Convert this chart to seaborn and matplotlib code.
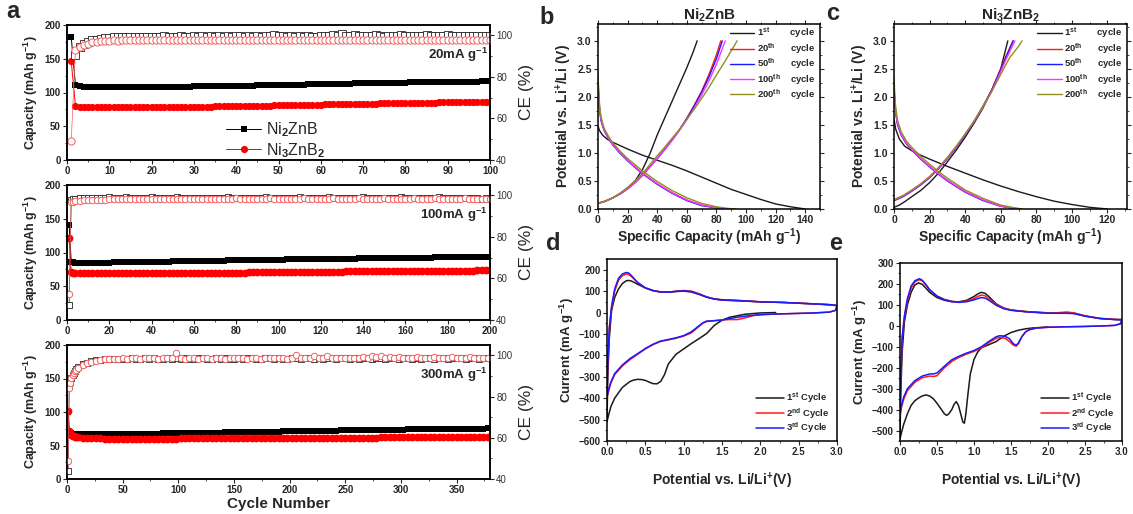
import numpy as np
import matplotlib
matplotlib.use("Agg")
import matplotlib.pyplot as plt
import seaborn as sns
from matplotlib.ticker import MultipleLocator, FormatStrFormatter

sns.set_style("ticks")
plt.rcParams['font.family'] = ['Liberation Sans', 'DejaVu Sans']
plt.rcParams['font.weight'] = 'bold'
plt.rcParams['mathtext.fontset'] = 'custom'
plt.rcParams['mathtext.rm'] = 'Liberation Sans'
plt.rcParams['mathtext.bf'] = 'Liberation Sans:bold'
plt.rcParams['mathtext.it'] = 'Liberation Sans:italic'
plt.rcParams['axes.linewidth'] = 1.1
plt.rcParams['axes.edgecolor'] = 'black'

# ---------------- data: panel a ----------------
top_cycles = list(range(1, 101))
top_ni2_cap = [182, 111, 109, 108.5, 108, 108, 107.5, 107.5, 107.5, 107.5,
               107.5, 107.5, 107.5, 107.5, 107.5, 107.5, 107.5, 108, 108, 108,
               108, 108, 108, 108, 108.5, 108.5, 108.5, 108.5, 108.5, 109,
               109, 109, 109, 109, 109, 109.5, 109.5, 109.5, 109.5, 110,
               110, 110, 110, 110, 110.5, 110.5, 110.5, 110.5, 111, 111,
               111, 111, 111, 111.5, 111.5, 111.5, 112, 112, 112, 112,
               112.5, 112.5, 112.5, 113, 113, 113, 113, 113.5, 113.5, 113.5,
               113.5, 114, 114, 114, 114, 114, 114.5, 114.5, 114.5, 114.5,
               115, 115, 115, 115, 115, 115, 115.5, 115.5, 115.5, 115.5,
               115.5, 116, 116, 116, 116, 116, 116, 116.5, 116.5, 116.5]
top_ni3_cap = [146, 80, 78.5, 78, 78, 78, 78, 78, 78, 78,
               78, 78, 78, 78, 78, 78, 78, 78, 78.5, 78.5,
               78.5, 78.5, 78.5, 78.5, 78.5, 79, 79, 79, 79, 79,
               79, 79, 79, 79, 79.5, 79.5, 79.5, 79.5, 79.5, 80,
               80, 80, 80, 80, 80.5, 80.5, 80.5, 80.5, 81, 81,
               81, 81, 81, 81.5, 81.5, 81.5, 82, 82, 82, 82,
               82.5, 82.5, 82.5, 83, 83, 83, 83.5, 83.5, 83.5, 83.5,
               83.5, 83.5, 83.5, 84, 84, 84, 84, 84, 84.5, 84.5,
               84.5, 84.5, 85, 85, 85, 85, 85, 85.5, 85.5, 85.5,
               85.5, 86, 86, 86, 86, 86, 86.5, 86.5, 86.5, 86.5]
top_ni2_ce = [np.nan, 90.4, 94.6, 96.0, 97.0, 97.6, 98.0, 98.3, 98.6, 98.9,
              99.1, 99.1, 99.3, 99.1, 99.4, 99.1, 99.3, 99.4, 99.1, 99.3,
              99.4, 99.1, 99.6, 99.3, 99.4, 99.1, 99.6, 99.4, 99.3, 99.7,
              99.4, 99.6, 99.3, 99.5, 99.4, 99.6, 99.3, 99.6, 99.4, 99.5,
              99.6, 99.3, 99.5, 99.4, 99.6, 99.4, 99.5, 99.9, 100.1, 99.6,
              99.5, 99.4, 99.6, 99.3, 99.5, 99.4, 99.6, 99.4, 99.3, 99.5,
              99.6, 99.8, 100.3, 99.6, 100.6, 99.7, 99.9, 100.4, 99.7, 99.6,
              99.5, 99.7, 100.1, 99.6, 99.4, 99.6, 99.7, 99.5, 100.1, 99.6,
              99.6, 99.8, 99.5, 99.7, 100.1, 99.6, 99.9, 99.5, 99.7, 100.1,
              99.6, 99.9, 99.5, 99.7, 99.6, 99.9, 99.6, 99.7, 99.8, 99.6]
top_ni3_ce = [49.1, 93.0, 94.3, 95.3, 96.0, 96.6, 96.9, 97.1, 97.2, 97.5,
              97.6, 97.5, 97.7, 97.6, 97.7, 97.6, 97.8, 97.7, 97.6, 97.8,
              97.7, 97.8, 97.6, 97.9, 97.7, 97.8, 97.6, 97.9, 97.7, 97.8,
              97.9, 97.7, 97.8, 98.0, 97.7, 97.9, 97.8, 97.7, 97.9, 97.8,
              98.0, 97.8, 97.9, 97.7, 97.9, 98.0, 97.8, 97.9, 97.7, 97.9,
              97.8, 98.0, 97.8, 97.9, 97.7, 97.9, 97.8, 98.0, 97.8, 97.9,
              97.7, 97.9, 98.0, 97.8, 97.9, 97.8, 98.0, 97.7, 97.9, 97.8,
              98.0, 97.8, 97.9, 97.7, 97.9, 98.0, 97.8, 97.9, 97.8, 98.0,
              97.8, 97.9, 97.7, 97.9, 98.0, 97.8, 97.9, 97.8, 98.0, 97.8,
              97.9, 97.7, 97.9, 98.0, 97.8, 97.9, 97.8, 98.0, 97.8, 97.9]

mid_cycles = [1, 2, 3] + list(range(4, 201, 2))
mid_ni2_cap = [141, 86, 85.5,
               85, 85, 85, 85, 85, 85, 85, 85, 85, 85.5,
               85.5, 85.5, 85.5, 86, 86, 86, 86, 86, 86.5, 86.5,
               86.5, 86.5, 86.5, 87, 87, 87, 87, 87.5, 87.5, 87.5,
               87.5, 88, 88, 88, 88, 88, 88.5, 88.5, 88.5, 88.5,
               89, 89, 89, 89, 89, 89.5, 89.5, 89.5, 89.5, 89.5,
               90, 90, 90, 90, 90, 90, 90.5, 90.5, 90.5, 90.5,
               90.5, 91, 91, 91, 91, 91, 91, 91.5, 91.5, 91.5,
               91.5, 91.5, 91.5, 92, 92, 92, 92, 92, 92, 92.5,
               92.5, 92.5, 92.5, 92.5, 92.5, 93, 93, 93, 93, 93,
               93, 93, 93, 93.5, 93.5, 93.5, 93.5, 93.5, 93.5]
mid_ni3_cap = [121, 71, 70,
               69.5, 69.5, 69, 69, 69, 69, 69, 69, 69, 69,
               69, 69, 69, 69, 69, 69, 69, 69, 69, 69,
               69, 69, 69, 69, 69.5, 69.5, 69.5, 69.5, 69.5, 69.5,
               69.5, 69.5, 70, 70, 70, 70, 70, 70, 70, 70,
               70, 70.5, 70.5, 70.5, 70.5, 70.5, 70.5, 70.5, 71, 71,
               71, 71, 71, 71, 71, 71, 71.5, 71.5, 71.5, 71.5,
               71.5, 71.5, 71.5, 71.5, 72, 72, 72, 72, 72, 72,
               72, 72, 72, 72.5, 72.5, 72.5, 72.5, 72.5, 72.5, 72.5,
               72.5, 72.5, 73, 73, 73, 73, 73, 73, 73, 73,
               73, 73, 73, 73, 73, 73.5, 73.5, 73.5, 73.5]
mid_ni2_ce = [47.2, 97.6, 98.2,
              98.4, 98.6, 98.7, 98.8, 98.6, 98.9, 98.7, 98.8, 99.0, 98.7,
              98.9, 98.7, 99.0, 98.8, 98.6, 98.9, 98.8, 98.7, 99.1, 98.8,
              98.6, 98.9, 98.7, 98.8, 99.0, 98.7, 98.9, 98.6, 98.8, 98.9,
              98.7, 98.9, 98.8, 98.6, 98.9, 98.7, 99.0, 98.8, 98.7, 98.9,
              98.8, 98.6, 98.9, 98.7, 98.8, 99.0, 98.7, 98.9, 98.8, 98.6,
              98.9, 98.7, 98.8, 99.0, 98.7, 98.8, 98.6, 98.9, 98.7, 98.8,
              99.0, 98.7, 98.9, 98.8, 98.6, 98.9, 98.7, 98.8, 99.0, 98.7,
              98.8, 98.9, 98.7, 98.6, 98.9, 98.8, 98.7, 99.0, 98.8, 98.6,
              98.9, 98.7, 98.8, 98.9, 98.6, 98.8, 99.0, 98.7, 98.8, 98.9,
              98.7, 98.8, 98.6, 98.9, 98.7, 98.8, 98.5, 98.7, 98.4]
mid_ni3_ce = [52.7, 96.6, 97.0,
              97.2, 97.4, 97.6, 97.7, 97.8, 97.9, 98.0, 98.0, 98.1, 98.1,
              98.2, 98.1, 98.3, 98.2, 98.3, 98.2, 98.4, 98.2, 98.3, 98.4,
              98.3, 98.2, 98.4, 98.3, 98.5, 98.3, 98.4, 98.2, 98.4, 98.3,
              98.4, 98.3, 98.5, 98.3, 98.4, 98.5, 98.3, 98.4, 98.6, 98.4,
              98.3, 98.5, 98.4, 98.3, 98.5, 98.4, 98.6, 98.4, 98.3, 98.5,
              98.4, 98.5, 98.3, 98.4, 98.6, 98.4, 98.5, 98.3, 98.4, 98.5,
              98.4, 98.6, 98.4, 98.3, 98.5, 98.4, 98.5, 98.6, 98.4, 98.5,
              98.3, 98.5, 98.4, 98.6, 98.4, 98.5, 98.3, 98.4, 98.5, 98.4,
              98.6, 98.4, 98.5, 98.3, 98.4, 98.6, 98.4, 98.5, 98.4, 98.3,
              98.5, 98.4, 98.6, 98.4, 98.5, 98.3, 98.5, 98.4, 98.3]

bot_cycles = list(range(1, 9)) + list(range(10, 381, 4))
bot_ni2_cap = [100, 70, 68.5, 68, 67.5, 67, 67, 67,
               66.5, 66.5, 66.5, 66.5, 66.5, 66.5, 66.5, 66.5, 67, 67,
               67, 67, 67, 67, 67.5, 67.5, 67.5, 67.5, 67.5, 68,
               68, 68, 68, 68, 68.5, 68.5, 68.5, 68.5, 69, 69,
               69, 69, 69, 69.5, 69.5, 69.5, 69.5, 70, 70, 70,
               70, 70, 70.5, 70.5, 70.5, 70.5, 71, 71, 71, 71,
               71.5, 71.5, 71.5, 71.5, 72, 72, 72, 72, 72, 72.5,
               72.5, 72.5, 72.5, 72.5, 73, 73, 73, 73, 73, 73.5,
               73.5, 73.5, 73.5, 73.5, 74, 74, 74, 74, 74, 74,
               74.5, 74.5, 74.5, 74.5, 74.5, 74.5, 75, 75, 75, 75,
               75, 75, 75.5]
bot_ni3_cap = [101, 72, 68, 66, 64.5, 63.5, 63, 62.5,
               62, 61.5, 61, 60.5, 60.5, 60.5, 60, 60, 60, 60,
               60, 60, 60, 60, 60, 60, 60, 60, 60, 60,
               60, 60, 60, 60.5, 60.5, 60.5, 60.5, 60.5, 60.5, 60.5,
               60.5, 60.5, 60.5, 60.5, 60.5, 60.5, 61, 61, 61, 61,
               61, 61, 61, 61, 61, 61, 61, 61, 61, 61,
               61, 61, 61, 61, 61, 61.5, 61.5, 61.5, 61.5, 61.5,
               61.5, 61.5, 61.5, 61.5, 61.5, 61.5, 61.5, 61.5, 62, 62,
               62, 62, 62, 62, 62, 62, 62, 62, 62, 62,
               62, 62, 62, 62.5, 62.5, 62.5, 62.5, 62.5, 62.5, 62.5,
               62.5, 62.5, 62.5]
bot_ni2_ce = [43.9, 85.0, 87.0, 89.0, 90.5, 91.5, 92.5, 93.2,
              94.2, 95.6, 96.5, 97.1, 97.6, 97.9, 98.1, 98.2, 98.3, 98.3,
              98.4, 98.3, 98.5, 98.4, 98.3, 98.5, 98.4, 98.6, 98.4, 98.3,
              98.5, 98.4, 98.6, 98.3, 98.5, 98.4, 98.3, 98.5, 98.6, 98.4,
              98.3, 98.5, 98.4, 98.6, 98.4, 98.3, 98.5, 98.4, 98.6, 98.5,
              98.4, 98.3, 98.5, 98.6, 98.4, 98.5, 98.3, 98.4, 98.6, 98.5,
              98.4, 98.6, 98.5, 98.3, 98.5, 98.4, 98.6, 98.5, 98.4, 98.5,
              98.6, 98.4, 98.5, 98.3, 98.5, 98.6, 98.4, 98.5, 98.6, 98.4,
              98.5, 98.6, 98.4, 98.5, 98.6, 98.4, 98.5, 98.3, 98.5, 98.6,
              98.4, 98.5, 98.6, 98.4, 98.5, 98.6, 98.5, 98.4, 98.6, 98.5,
              98.4, 98.5, 98.6]
bot_ni3_ce = [48.8, 83.9, 86.5, 88.8, 90.4, 91.4, 92.3, 93.0,
              94.0, 95.4, 96.3, 96.9, 97.4, 97.8, 98.0, 98.2, 98.3, 98.4,
              98.5, 98.4, 98.5, 98.6, 98.4, 98.5, 98.6, 98.5, 98.4, 98.6,
              98.5, 98.6, 101.2, 98.5, 98.4, 98.6, 98.5, 98.4, 98.6, 98.5,
              98.4, 98.6, 98.5, 98.4, 98.6, 98.5, 98.7, 98.5, 98.4, 98.6,
              98.5, 98.4, 98.6, 98.5, 98.7, 98.5, 98.6, 98.4, 98.8, 100.0,
              98.7, 98.5, 98.9, 99.6, 98.6, 98.8, 99.5, 98.7, 98.6, 98.8,
              98.7, 98.6, 98.9, 98.7, 99.2, 98.8, 99.8, 99.0, 99.6, 98.9,
              99.3, 98.8, 99.0, 98.7, 98.9, 98.8, 99.1, 98.7, 98.9, 98.8,
              99.0, 98.7, 98.9, 98.8, 99.0, 98.7, 98.9, 98.8, 99.0, 98.7,
              98.9, 98.8, 98.7]

# ---------------- data: panels b, c (charge/discharge) ----------------
cycle_names = ["1st", "20th", "50th", "100th", "200th"]
cycle_colors = ["#1a1a1a", "#ff1a1a", "#1a1aff", "#ff33ff", "#8f8f22"]

b_dis_cap = [
    [0, 1, 3, 6, 10, 15, 20, 30, 40, 50, 60, 70, 80, 90, 100, 110, 120, 130, 140],
    [0, 0.5, 1, 2, 4, 7, 10, 15, 20, 25, 30, 40, 50, 60, 70, 80, 86],
    [0, 0.5, 1, 2, 4, 7, 10, 15, 20, 25, 30, 40, 50, 60, 70, 80, 85],
    [0, 0.5, 1, 2, 4, 7, 10, 15, 20, 25, 30, 40, 50, 60, 70, 80, 87],
    [0, 0.5, 1, 2, 4, 7, 10, 15, 20, 25, 30, 40, 50, 60, 70, 80, 88, 93]]
b_dis_v = [
    [1.48, 1.40, 1.32, 1.25, 1.19, 1.13, 1.07, 0.96, 0.87, 0.78, 0.68, 0.57, 0.46, 0.35, 0.26, 0.17, 0.09, 0.04, 0.0],
    [2.30, 2.00, 1.80, 1.60, 1.42, 1.27, 1.15, 1.00, 0.87, 0.75, 0.64, 0.45, 0.29, 0.16, 0.07, 0.02, 0.0],
    [2.25, 1.98, 1.78, 1.58, 1.41, 1.26, 1.14, 0.99, 0.86, 0.74, 0.63, 0.44, 0.28, 0.15, 0.06, 0.02, 0.0],
    [2.28, 2.00, 1.80, 1.60, 1.42, 1.27, 1.15, 1.00, 0.87, 0.75, 0.64, 0.45, 0.29, 0.16, 0.07, 0.02, 0.0],
    [2.40, 2.10, 1.88, 1.65, 1.45, 1.30, 1.18, 1.03, 0.90, 0.79, 0.68, 0.49, 0.33, 0.20, 0.10, 0.04, 0.01, 0.0]]
b_chg_cap = [
    [0, 5, 10, 15, 20, 25, 30, 35, 40, 45, 50, 55, 60, 64, 67],
    [0, 5, 10, 15, 20, 25, 30, 35, 40, 45, 50, 55, 60, 65, 70, 75, 80, 83],
    [0, 5, 10, 15, 20, 25, 30, 35, 40, 45, 50, 55, 60, 65, 70, 75, 80, 84],
    [0, 5, 10, 15, 20, 25, 30, 35, 40, 45, 50, 55, 60, 65, 70, 75, 80, 86],
    [0, 5, 10, 15, 20, 25, 30, 35, 40, 45, 50, 55, 60, 65, 70, 75, 80, 85, 90, 94]]
b_chg_v = [
    [0.10, 0.14, 0.20, 0.28, 0.38, 0.50, 0.70, 0.98, 1.32, 1.62, 1.92, 2.22, 2.52, 2.78, 3.0],
    [0.10, 0.14, 0.20, 0.27, 0.36, 0.47, 0.60, 0.75, 0.90, 1.06, 1.23, 1.41, 1.62, 1.85, 2.10, 2.40, 2.75, 3.0],
    [0.10, 0.14, 0.20, 0.27, 0.36, 0.47, 0.60, 0.75, 0.90, 1.06, 1.23, 1.41, 1.61, 1.84, 2.08, 2.36, 2.68, 3.0],
    [0.10, 0.14, 0.20, 0.27, 0.36, 0.47, 0.60, 0.75, 0.90, 1.06, 1.22, 1.40, 1.59, 1.80, 2.03, 2.29, 2.58, 3.0],
    [0.10, 0.14, 0.20, 0.28, 0.38, 0.50, 0.63, 0.79, 0.95, 1.10, 1.26, 1.42, 1.60, 1.78, 1.97, 2.17, 2.39, 2.60, 2.82, 3.0]]

c_dis_cap = [
    [0, 1, 3, 6, 10, 15, 20, 30, 40, 50, 60, 70, 80, 90, 100, 110, 120],
    [0, 0.5, 1, 2, 4, 7, 10, 15, 20, 25, 30, 40, 50, 60, 68, 71],
    [0, 0.5, 1, 2, 4, 7, 10, 15, 20, 25, 30, 40, 50, 60, 68, 70],
    [0, 0.5, 1, 2, 4, 7, 10, 15, 20, 25, 30, 40, 50, 60, 68, 71],
    [0, 0.5, 1, 2, 4, 7, 10, 15, 20, 25, 30, 40, 50, 60, 68, 72]]
c_dis_v = [
    [1.60, 1.42, 1.25, 1.12, 1.04, 0.96, 0.89, 0.76, 0.64, 0.52, 0.41, 0.31, 0.22, 0.14, 0.08, 0.03, 0.0],
    [2.20, 1.90, 1.72, 1.52, 1.33, 1.17, 1.06, 0.90, 0.76, 0.63, 0.51, 0.31, 0.16, 0.05, 0.01, 0.0],
    [2.15, 1.88, 1.70, 1.50, 1.32, 1.16, 1.05, 0.89, 0.75, 0.62, 0.50, 0.30, 0.15, 0.05, 0.01, 0.0],
    [2.20, 1.90, 1.72, 1.52, 1.33, 1.17, 1.06, 0.90, 0.76, 0.63, 0.51, 0.31, 0.16, 0.05, 0.01, 0.0],
    [2.35, 2.00, 1.80, 1.58, 1.38, 1.21, 1.10, 0.94, 0.80, 0.67, 0.55, 0.34, 0.19, 0.07, 0.02, 0.0]]
c_chg_cap = [
    [0, 3, 6, 10, 15, 20, 25, 30, 35, 40, 45, 50, 55, 60, 64],
    [0, 5, 10, 15, 20, 25, 30, 35, 40, 45, 50, 55, 60, 63, 67],
    [0, 5, 10, 15, 20, 25, 30, 35, 40, 45, 50, 55, 60, 63, 67],
    [0, 5, 10, 15, 20, 25, 30, 35, 40, 45, 50, 55, 60, 63, 68],
    [0, 5, 10, 15, 20, 25, 30, 35, 40, 45, 50, 55, 60, 65, 70, 72]]
c_chg_v = [
    [0.03, 0.07, 0.13, 0.22, 0.33, 0.47, 0.64, 0.84, 1.05, 1.28, 1.53, 1.80, 2.12, 2.50, 3.0],
    [0.15, 0.22, 0.32, 0.43, 0.56, 0.72, 0.90, 1.10, 1.32, 1.56, 1.83, 2.13, 2.50, 2.73, 3.0],
    [0.15, 0.22, 0.32, 0.43, 0.56, 0.72, 0.90, 1.10, 1.32, 1.56, 1.83, 2.12, 2.48, 2.71, 3.0],
    [0.16, 0.23, 0.33, 0.44, 0.57, 0.73, 0.91, 1.11, 1.33, 1.56, 1.82, 2.10, 2.45, 2.67, 3.0],
    [0.17, 0.24, 0.34, 0.45, 0.58, 0.74, 0.92, 1.12, 1.34, 1.57, 1.83, 2.10, 2.40, 2.70, 2.90, 3.0]]

# ---------------- data: panels d, e (CV) ----------------
cv_names = ["1st", "2nd", "3rd"]
cv_colors = ["#1a1a1a", "#ff1a1a", "#1a1aff"]

d1_v = [2.2, 2.0, 1.8, 1.6, 1.5, 1.4, 1.3, 1.2, 1.1, 1.0, 0.9, 0.8, 0.75, 0.7, 0.65, 0.6, 0.55, 0.5, 0.45, 0.4,
        0.35, 0.3, 0.2, 0.1, 0.05, 0.02, 0.0,
        0.01, 0.03, 0.06, 0.1, 0.15, 0.2, 0.25, 0.28, 0.32, 0.4, 0.5, 0.6, 0.7, 0.8, 0.9, 1.0, 1.1, 1.2, 1.3,
        1.4, 1.5, 1.7, 2.0, 2.3, 2.6, 2.9, 3.0]
d1_i = [0, -2, -8, -22, -36, -60, -98, -122, -145, -170, -195, -240, -290, -322, -333, -332, -325, -317, -313, -312,
        -315, -322, -350, -400, -440, -480, -510,
        -300, -120, 10, 70, 110, 135, 148, 150, 147, 132, 115, 103, 96, 95, 98, 100, 96, 85, 72,
        63, 58, 55, 50, 47, 42, 36, 32]
d23_v = [3.0, 2.98, 2.9, 2.7, 2.5, 2.2, 2.0, 1.9, 1.8, 1.7, 1.6, 1.5, 1.4, 1.3, 1.25, 1.2, 1.1, 1.0, 0.9, 0.8,
         0.7, 0.6, 0.5, 0.4, 0.3, 0.2, 0.1, 0.05, 0.02, 0.0,
         0.01, 0.03, 0.06, 0.1, 0.15, 0.2, 0.25, 0.28, 0.32, 0.4, 0.5, 0.6, 0.7, 0.8, 0.9, 1.0, 1.1, 1.2, 1.3,
         1.4, 1.5, 1.7, 2.0, 2.3, 2.6, 2.9, 3.0]
d2_i = [30, 10, 2, -2, -4, -7, -10, -15, -25, -33, -33, -35, -38, -42, -50, -65, -95, -110, -120, -128,
        -135, -150, -170, -195, -220, -250, -290, -330, -370, -400,
        -250, -80, 20, 100, 150, 172, 180, 178, 168, 140, 115, 102, 96, 95, 100, 103, 100, 88, 73,
        64, 60, 57, 50, 47, 42, 37, 33]
d3_i = [30, 10, 2, -2, -4, -7, -10, -13, -17, -22, -28, -35, -38, -40, -48, -62, -90, -108, -118, -126,
        -133, -148, -168, -192, -215, -245, -285, -325, -360, -390,
        -240, -70, 30, 110, 160, 180, 187, 185, 172, 140, 115, 102, 96, 95, 99, 101, 98, 86, 72,
        63, 59, 56, 50, 47, 42, 37, 33]

e1_v = [2.0, 1.9, 1.8, 1.7, 1.6, 1.5, 1.4, 1.3, 1.2, 1.1, 1.05, 1.0, 0.95, 0.92, 0.89, 0.87, 0.85, 0.82, 0.79, 0.76,
        0.73, 0.7, 0.66, 0.63, 0.6, 0.55, 0.5, 0.45, 0.4, 0.35, 0.3, 0.25, 0.2, 0.15, 0.1, 0.05, 0.02, 0.0,
        0.01, 0.03, 0.06, 0.1, 0.15, 0.2, 0.25, 0.3, 0.35, 0.4, 0.5, 0.6, 0.7, 0.8, 0.9, 1.0, 1.05, 1.1, 1.15,
        1.2, 1.3, 1.4, 1.5, 1.7, 2.0, 2.2, 2.35, 2.5, 2.7, 2.9, 3.0]
e1_i = [-5, -8, -10, -14, -21, -32, -50, -75, -90, -105, -125, -160, -230, -320, -420, -465, -460, -420, -380, -362,
        -375, -400, -420, -428, -420, -395, -370, -348, -335, -330, -335, -345, -358, -380, -420, -470, -510, -540,
        -320, -120, 20, 100, 160, 195, 205, 198, 180, 160, 135, 122, 115, 115, 122, 140, 152, 160, 155,
        140, 105, 85, 75, 68, 62, 62, 60, 47, 35, 30, 28]
e23_v = [3.0, 2.98, 2.9, 2.7, 2.5, 2.2, 2.0, 1.85, 1.75, 1.7, 1.65, 1.6, 1.57, 1.53, 1.48, 1.42, 1.35, 1.3, 1.2, 1.1,
         1.0, 0.9, 0.8, 0.7, 0.6, 0.5, 0.45, 0.4, 0.3, 0.2, 0.1, 0.05, 0.02, 0.0,
         0.01, 0.03, 0.06, 0.1, 0.15, 0.2, 0.26, 0.3, 0.35, 0.4, 0.5, 0.6, 0.7, 0.8, 0.9, 1.0, 1.05, 1.1, 1.15,
         1.2, 1.3, 1.4, 1.5, 1.7, 2.0, 2.15, 2.25, 2.35, 2.5, 2.7, 2.9, 3.0]
e2_i = [30, 10, 2, -1, -3, -5, -7, -10, -18, -28, -50, -85, -97, -92, -75, -60, -55, -60, -80, -105,
        -122, -135, -150, -170, -200, -238, -242, -240, -248, -270, -310, -350, -390, -430,
        -260, -60, 40, 120, 180, 210, 220, 215, 195, 172, 142, 126, 117, 114, 118, 130, 140, 147, 143,
        130, 102, 85, 76, 68, 61, 63, 66, 62, 48, 36, 31, 30]
e3_i = [30, 10, 2, -1, -3, -5, -7, -10, -18, -28, -50, -82, -93, -85, -62, -50, -47, -52, -75, -100,
        -118, -130, -145, -162, -193, -225, -230, -230, -240, -262, -300, -340, -380, -420,
        -250, -50, 50, 130, 190, 215, 225, 218, 197, 173, 142, 125, 116, 112, 115, 124, 130, 135, 132,
        122, 98, 82, 74, 67, 60, 60, 60, 58, 46, 35, 30, 30]

# ---------------- figure ----------------
W, H = 1133, 514
fig = plt.figure(figsize=(W / 100, H / 100), dpi=100)


def add_ax(l, t, r, b):
    return fig.add_axes([l / W, 1 - b / H, (r - l) / W, (b - t) / H])


def tick_style(ax, size):
    ax.tick_params(which='major', direction='out', length=3, width=0.8, labelsize=size, pad=1.5)
    ax.tick_params(which='minor', direction='out', length=1.6, width=0.6)


CAP_BLACK = "#000000"
CAP_RED = "#ff0000"
CE_RED = "#f06060"


def cycling_panel(ax, cyc, cap1, cap2, ce1, ce2, xmax, xmajor, xminor, rate, msize, cesize):
    sns.lineplot(x=cyc, y=cap1, ax=ax, color=CAP_BLACK, lw=0.7, marker='s', markersize=msize,
                 markeredgewidth=0, estimator=None, sort=False, label=r"Ni$_2$ZnB")
    sns.lineplot(x=cyc, y=cap2, ax=ax, color=CAP_RED, lw=0.7, marker='o', markersize=msize + 0.6,
                 markeredgewidth=0, estimator=None, sort=False, label=r"Ni$_3$ZnB$_2$")
    if ax.get_legend() is not None:
        ax.get_legend().remove()
    ax.set_xlim(0, xmax)
    ax.set_ylim(0, 200)
    ax.xaxis.set_major_locator(MultipleLocator(xmajor))
    ax.xaxis.set_minor_locator(MultipleLocator(xminor))
    ax.yaxis.set_major_locator(MultipleLocator(50))
    ax.yaxis.set_minor_locator(MultipleLocator(25))
    tick_style(ax, 7)
    ax.set_ylabel(r"Capacity (mAh g$^{\mathbf{-1}}$)", fontsize=9, fontweight='bold', labelpad=3)
    ax.set_xlabel("")
    ax2 = ax.twinx()
    sns.lineplot(x=cyc, y=ce1, ax=ax2, color="#222222", lw=0.5, marker='s', markersize=cesize,
                 markerfacecolor='white', markeredgecolor="#222222", markeredgewidth=0.6,
                 estimator=None, sort=False)
    sns.lineplot(x=cyc, y=ce2, ax=ax2, color=CE_RED, lw=0.5, marker='o', markersize=cesize,
                 markerfacecolor='white', markeredgecolor=CE_RED, markeredgewidth=0.7,
                 estimator=None, sort=False)
    ax2.set_ylim(40, 105)
    ax2.set_yticks([40, 60, 80, 100])
    ax2.set_yticklabels(['40', '60', '80', '100'], fontweight='normal', fontsize=7, color='#333333')
    ax2.yaxis.set_minor_locator(MultipleLocator(10))
    tick_style(ax2, 7)
    ax2.set_ylabel("CE (%)", fontsize=12.5, fontweight='normal', labelpad=5)
    ax2.text(0.995, 0.78, r"%smA g$^{\mathbf{-1}}$" % rate, transform=ax2.transAxes, ha='right',
             va='center', fontsize=9.5, fontweight='bold')
    for s in ax2.spines.values():
        s.set_linewidth(1.1)
    return ax, ax2


axA1 = add_ax(67, 25, 490, 160)
cycling_panel(axA1, top_cycles, top_ni2_cap, top_ni3_cap, top_ni2_ce, top_ni3_ce, 100, 10, 5, "20", 4.6, 5.2)
leg = axA1.legend(handles=axA1.lines[:2], loc='lower left', bbox_to_anchor=(0.35, -0.08), frameon=False,
                  prop={'size': 11.5, 'weight': 'normal'}, handlelength=2.2, handletextpad=0.3,
                  labelspacing=0.1, borderpad=0.2)

axA2 = add_ax(67, 185, 490, 320)
cycling_panel(axA2, mid_cycles, mid_ni2_cap, mid_ni3_cap, mid_ni2_ce, mid_ni3_ce, 200, 20, 10, "100", 5.0, 4.6)

axA3 = add_ax(67, 345, 490, 479)
cycling_panel(axA3, bot_cycles, bot_ni2_cap, bot_ni3_cap, bot_ni2_ce, bot_ni3_ce, 380, 50, 25, "300", 5.0, 4.6)
axA3.set_xlabel("Cycle Number", fontsize=11, fontweight='bold', labelpad=1)


def gcd_panel(ax, dis_cap, dis_v, chg_cap, chg_v, xmax, title):
    handles = []
    for k in range(5):
        sns.lineplot(x=dis_cap[k], y=dis_v[k], ax=ax, color=cycle_colors[k], lw=1.0,
                     estimator=None, sort=False)
        handles.append(ax.lines[-1])
        sns.lineplot(x=chg_cap[k], y=chg_v[k], ax=ax, color=cycle_colors[k], lw=1.0,
                     estimator=None, sort=False)
    ax.set_xlim(0, xmax)
    ax.set_ylim(0, 3.3)
    ax.xaxis.set_major_locator(MultipleLocator(20))
    ax.xaxis.set_minor_locator(MultipleLocator(10))
    ax.yaxis.set_major_locator(MultipleLocator(0.5))
    ax.yaxis.set_minor_locator(MultipleLocator(0.25))
    ax.yaxis.set_major_formatter(FormatStrFormatter('%.1f'))
    tick_style(ax, 7.5)
    ax.tick_params(which='both', top=True, right=True)
    ax.set_title(title, fontsize=11, fontweight='bold', pad=2)
    ax.set_xlabel(r"Specific Capacity $\mathbf{(}$mAh g$^{\mathbf{-1}}$$\mathbf{)}$", fontsize=10,
                  fontweight='bold', labelpad=1)
    ax.set_ylabel(r"Potential vs. Li$^{\mathbf{+}}$/Li (V)", fontsize=10, fontweight='bold', labelpad=2)
    labels = [r"1$^{\mathbf{st}}$        cycle", r"20$^{\mathbf{th}}$      cycle",
              r"50$^{\mathbf{th}}$      cycle", r"100$^{\mathbf{th}}$    cycle",
              r"200$^{\mathbf{th}}$    cycle"]
    ax.legend(handles=handles, labels=labels, loc='upper right', bbox_to_anchor=(1.015, 1.03),
              frameon=False, prop={'size': 6.8, 'weight': 'bold'}, handlelength=2.6,
              handletextpad=0.3, labelspacing=0.05, borderpad=0.3)


axB = add_ax(598, 24, 820, 209)
gcd_panel(axB, b_dis_cap, b_dis_v, b_chg_cap, b_chg_v, 150, r"Ni$_{\mathbf{2}}$ZnB")
axC = add_ax(894, 24, 1127, 209)
gcd_panel(axC, c_dis_cap, c_dis_v, c_chg_cap, c_chg_v, 131, r"Ni$_{\mathbf{3}}$ZnB$_{\mathbf{2}}$")


def cv_panel(ax, vs, cur, ylo, yhi):
    handles = []
    for k in range(3):
        sns.lineplot(x=vs[k], y=cur[k], ax=ax, color=cv_colors[k], lw=1.1, estimator=None, sort=False)
        handles.append(ax.lines[-1])
    ax.set_xlim(0, 3.0)
    ax.set_ylim(ylo, yhi)
    ax.xaxis.set_major_locator(MultipleLocator(0.5))
    ax.xaxis.set_minor_locator(MultipleLocator(0.25))
    ax.xaxis.set_major_formatter(FormatStrFormatter('%.1f'))
    ax.yaxis.set_major_locator(MultipleLocator(100))
    ax.yaxis.set_minor_locator(MultipleLocator(50))
    tick_style(ax, 7)
    ax.set_xlabel(r"Potential vs. Li/Li$^{\mathbf{+}}$(V)", fontsize=10, fontweight='bold', labelpad=10)
    ax.set_ylabel(r"Current $\mathbf{(}$mA g$^{\mathbf{-1}}$$\mathbf{)}$", fontsize=9.5, fontweight='bold',
                  labelpad=2)
    labels = [r"1$^{\mathbf{st}}$ Cycle", r"2$^{\mathbf{nd}}$ Cycle", r"3$^{\mathbf{rd}}$ Cycle"]
    ax.legend(handles=handles, labels=labels, loc='lower right', bbox_to_anchor=(1.0, -0.01),
              frameon=False, prop={'size': 6.8, 'weight': 'bold'}, handlelength=3.0,
              handletextpad=0.2, labelspacing=0.0, borderpad=0.3)


axD = add_ax(607, 259, 837, 441)
cv_panel(axD, [d1_v, d23_v, d23_v], [d1_i, d2_i, d3_i], -600, 250)
axE = add_ax(900, 263, 1122, 441)
cv_panel(axE, [e1_v, e23_v, e23_v], [e1_i, e2_i, e3_i], -550, 300)

for lab, (x, y) in {"a": (13, 12), "b": (547, 18), "c": (833, 14), "d": (553, 243), "e": (836, 243)}.items():
    fig.text(x / W, 1 - y / H, lab, fontsize=17, fontweight='bold', ha='center', va='center')

fig.savefig("out.png", dpi=100)
